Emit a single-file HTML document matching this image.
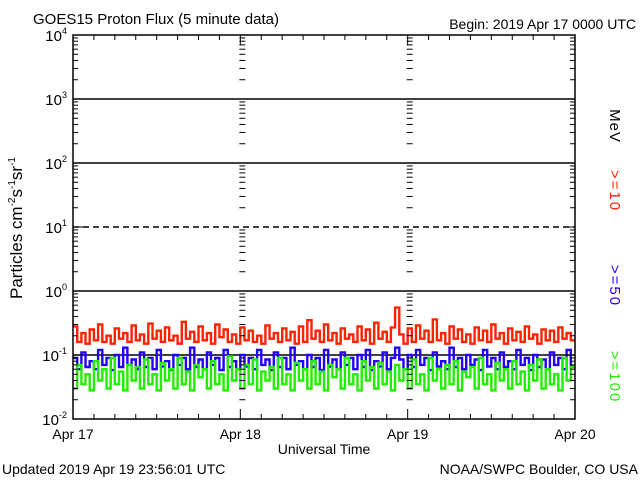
<!DOCTYPE html>
<html><head><meta charset="utf-8"><style>
body{margin:0;background:#fff;width:640px;height:480px;overflow:hidden}
svg text{font-family:"Liberation Sans",sans-serif}
</style></head><body>
<svg id="chart" width="640" height="480" xmlns="http://www.w3.org/2000/svg">
<text x="33" y="24" font-size="15">GOES15 Proton Flux (5 minute data)</text>
<text x="636" y="29" font-size="14" text-anchor="end">Begin: 2019 Apr 17 0000 UTC</text>
<text x="2" y="474" font-size="14">Updated 2019 Apr 19 23:56:01 UTC</text>
<text x="638" y="474" font-size="14" text-anchor="end">NOAA/SWPC Boulder, CO USA</text>
<text x="324" y="454" font-size="14" text-anchor="middle">Universal Time</text>
<text transform="translate(22,228) rotate(-90)" font-size="17" text-anchor="middle">Particles cm<tspan font-size="10" dy="-7">-2</tspan><tspan dy="7">s</tspan><tspan font-size="10" dy="-7">-1</tspan><tspan dy="7">sr</tspan><tspan font-size="10" dy="-7">-1</tspan></text>
<text transform="translate(610,126) rotate(90)" font-size="15" letter-spacing="1" text-anchor="middle">MeV</text>
<text transform="translate(610,191) rotate(90)" font-size="15" letter-spacing="2" text-anchor="middle" fill="#ff2200">&gt;=10</text>
<text transform="translate(610,286) rotate(90)" font-size="15" letter-spacing="2" text-anchor="middle" fill="#2200ff">&gt;=50</text>
<text transform="translate(610,377) rotate(90)" font-size="15" letter-spacing="2" text-anchor="middle" fill="#22ee00">&gt;=100</text>
<g id="grid"></g><g id="series"></g><g id="axes"></g>
</svg>
<script>
const decades=[-2,-1,0,1,2,3,4];
const dayLabels=["Apr 17","Apr 18","Apr 19","Apr 20"];
const p10=[0.28,0.16,0.22,0.15,0.25,0.17,0.30,0.16,0.20,0.15,0.26,0.18,0.22,0.16,0.29,0.17,0.21,0.15,0.31,0.18,
0.24,0.16,0.27,0.17,0.20,0.15,0.33,0.18,0.23,0.16,0.28,0.17,0.22,0.15,0.30,0.19,0.25,0.16,0.21,0.15,
0.27,0.17,0.24,0.16,0.20,0.15,0.29,0.18,0.22,0.16,0.26,0.17,0.23,0.15,0.28,0.16,0.35,0.18,0.24,0.16,
0.30,0.17,0.22,0.15,0.26,0.18,0.21,0.16,0.28,0.17,0.25,0.15,0.32,0.18,0.23,0.16,0.27,0.55,0.21,0.15,
0.26,0.16,0.29,0.18,0.24,0.16,0.36,0.17,0.22,0.15,0.28,0.18,0.25,0.16,0.21,0.15,0.27,0.17,0.24,0.16,
0.30,0.18,0.22,0.15,0.26,0.17,0.23,0.16,0.28,0.18,0.21,0.15,0.25,0.17,0.24,0.16,0.27,0.18,0.22,0.17];
const p50=[0.09,0.06,0.11,0.065,0.08,0.06,0.12,0.07,0.09,0.058,0.10,0.065,0.13,0.07,0.085,0.06,0.11,0.065,0.09,0.06,
0.12,0.066,0.08,0.058,0.10,0.07,0.09,0.06,0.13,0.065,0.085,0.06,0.11,0.07,0.09,0.058,0.12,0.065,0.08,0.06,
0.10,0.066,0.09,0.06,0.12,0.07,0.085,0.058,0.11,0.065,0.09,0.06,0.13,0.07,0.08,0.06,0.10,0.065,0.09,0.058,
0.12,0.066,0.085,0.06,0.11,0.07,0.09,0.06,0.10,0.065,0.12,0.058,0.08,0.066,0.11,0.06,0.09,0.13,0.085,0.06,
0.10,0.065,0.12,0.07,0.09,0.058,0.11,0.066,0.08,0.06,0.13,0.065,0.09,0.06,0.10,0.07,0.085,0.058,0.12,0.066,
0.09,0.06,0.11,0.065,0.08,0.06,0.12,0.07,0.09,0.058,0.10,0.065,0.085,0.06,0.11,0.07,0.09,0.06,0.12,0.066];
const p100=[0.03,0.07,0.035,0.05,0.028,0.08,0.04,0.06,0.03,0.09,0.035,0.055,0.028,0.07,0.04,0.065,0.03,0.085,0.035,0.05,
0.028,0.075,0.04,0.06,0.03,0.09,0.035,0.055,0.028,0.07,0.045,0.06,0.03,0.08,0.035,0.05,0.028,0.095,0.04,0.06,
0.03,0.07,0.035,0.085,0.028,0.055,0.04,0.065,0.03,0.09,0.035,0.05,0.028,0.075,0.04,0.06,0.03,0.08,0.035,0.055,
0.028,0.07,0.045,0.06,0.03,0.09,0.035,0.05,0.028,0.08,0.04,0.065,0.03,0.075,0.035,0.055,0.028,0.07,0.04,0.06,
0.03,0.085,0.035,0.05,0.028,0.09,0.04,0.06,0.03,0.07,0.035,0.08,0.028,0.055,0.045,0.065,0.03,0.09,0.035,0.05,
0.028,0.075,0.04,0.06,0.03,0.08,0.035,0.055,0.028,0.07,0.04,0.085,0.03,0.06,0.035,0.05,0.028,0.09,0.04,0.065];
const X0=73,X1=575,Y_TOP=35,Y_BOT=419;
const xs=d=>X0+(X1-X0)*d/3;
const ys=v=>Y_BOT-(Math.log10(v)+2)*(Y_BOT-Y_TOP)/6;
const NS="http://www.w3.org/2000/svg";
function mk(tag,attrs,parent){const e=document.createElementNS(NS,tag);for(const k in attrs)e.setAttribute(k,attrs[k]);parent.appendChild(e);return e;}
const grid=document.getElementById('grid'),axes=document.getElementById('axes'),ser=document.getElementById('series');
[3,2,1,0,-1].forEach(d=>{
 const l=mk('line',{x1:X0,x2:X1,y1:ys(Math.pow(10,d)),y2:ys(Math.pow(10,d)),stroke:'#000','stroke-width':1.5},grid);
 if(d===1)l.setAttribute('stroke-dasharray','6,4');
 
 
});
// series drawn as step lines (histogram-like, as in the original plot)
[[p10,'#ff2200','series-10mev'],[p50,'#2200ff','series-50mev'],[p100,'#22ee00','series-100mev']].forEach(([arr,c,n])=>{
 let d='';
 arr.forEach((v,i)=>{
  const xa=xs(3*i/arr.length),xb=xs(3*(i+1)/arr.length),y=ys(v);
  d+=(i===0?'M':'L')+xa.toFixed(1)+','+y.toFixed(1)+'L'+xb.toFixed(1)+','+y.toFixed(1);
 });
 const pl=mk('path',{d:d,fill:'none',stroke:c,'stroke-width':2.4},ser);
 
 
});
const fr=mk('rect',{x:X0,y:Y_TOP,width:X1-X0,height:Y_BOT-Y_TOP,fill:'none',stroke:'#000','stroke-width':1.5},axes);


decades.forEach(d=>{
 const y=ys(Math.pow(10,d));
 mk('line',{x1:X0,x2:X0+10,y1:y,y2:y,stroke:'#000'},axes);
 mk('line',{x1:X1,x2:X1-10,y1:y,y2:y,stroke:'#000'},axes);
 const t=mk('text',{x:X0-6,y:y+6,'font-size':15,'text-anchor':'end'},axes);
 t.innerHTML='10<tspan font-size="9" dy="-7">'+d+'</tspan>';
 
 
 if(d<4)for(let k=2;k<10;k++){const yy=ys(k*Math.pow(10,d));
  mk('line',{x1:X0,x2:X0+5,y1:yy,y2:yy,stroke:'#000'},axes);
  mk('line',{x1:X1,x2:X1-5,y1:yy,y2:yy,stroke:'#000'},axes);
  [1,2].forEach(dd=>mk('line',{x1:xs(dd)-1,x2:xs(dd)+5,y1:yy,y2:yy,stroke:'#000'},axes));}
});
for(let i=0;i<=24;i++){const x=xs(i/8);const L=i%8===0?10:5;
 mk('line',{x1:x,x2:x,y1:Y_BOT,y2:Y_BOT-L,stroke:'#000'},axes);
 mk('line',{x1:x,x2:x,y1:Y_TOP,y2:Y_TOP+L,stroke:'#000'},axes);}
dayLabels.forEach((s,i)=>{const t=mk('text',{x:xs(i),y:439,'font-size':14,'text-anchor':'middle'},axes);t.textContent=s;
 
 });
</script>
</body></html>
